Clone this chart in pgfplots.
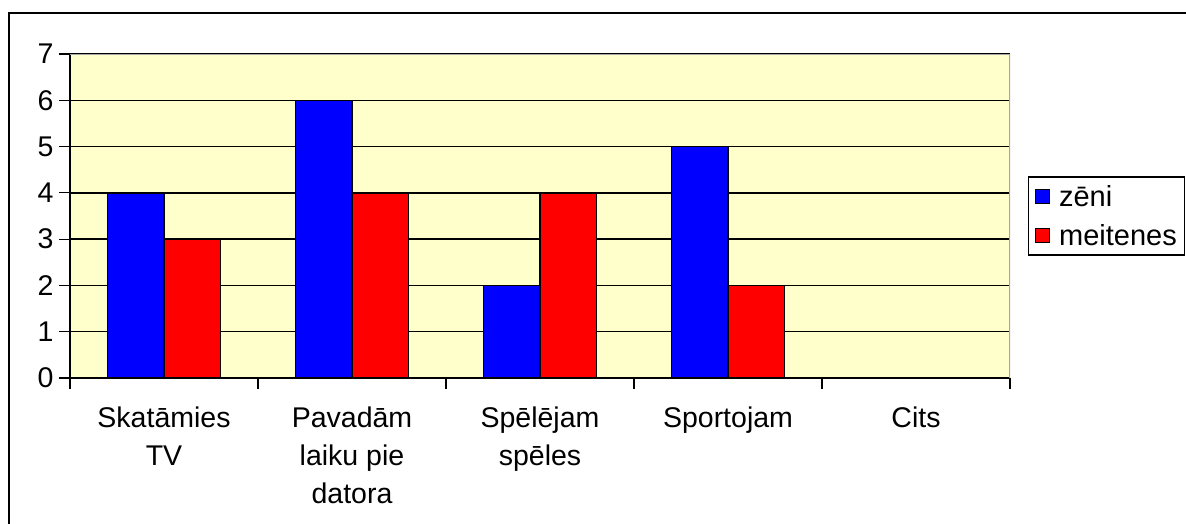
\documentclass[border=0pt]{standalone}
\usepackage{fontspec}
\setmainfont{Liberation Sans}
\usepackage{pgfplots}
\pgfplotsset{compat=1.18}
\definecolor{bgy}{HTML}{FFFFCC}
\begin{document}
\begin{tikzpicture}[x=1pt,y=1pt]
\begin{axis}[
  name=ax,
  width=940pt, height=324pt, scale only axis,
  xmin=-0.5, xmax=4.5, ymin=0, ymax=7,
  axis background/.style={fill=bgy},
  axis x line*=bottom, axis y line*=left,
  axis line style={line width=1.4pt, black, -},
  xtick={-0.5,0.5,1.5,2.5,3.5,4.5},
  x tick label as interval,
  xticklabels={{Skatāmies\\TV},{Pavadām\\laiku pie\\datora},{Spēlējam\\spēles},{Sportojam},{Cits}},
  ytick={0,1,2,3,4,5,6,7},
  tick align=outside,
  major tick length=11pt,
  tick style={line width=1.2pt, black},
  ymajorgrids, grid style={line width=1.4pt, black},
  font=\fontsize{28.5}{38}\selectfont,
  /pgf/number format/assume math mode=true,
  xticklabel style={align=center, anchor=north, yshift=-14pt},
  yticklabel style={xshift=-2pt},
  ybar, bar width=0.3,
  legend style={at={(1,0.5)}, anchor=west, xshift=18pt, draw=black, line width=1.2pt,
    font=\fontsize{29}{34}\selectfont, inner xsep=6pt, inner ysep=6pt, row sep=13pt,
    legend cell align=left},
  legend image code/.code={\draw[#1, draw=black, line width=1pt] (0pt,-7pt) rectangle (14pt,7pt);
    \path[draw=none, fill=none] (0pt,0pt) -- (22pt,0pt);},
]
\coordinate (BL) at (rel axis cs:0,0);
\addplot[fill={rgb,255:red,0;green,0;blue,255}, draw=black, line width=1.4pt, bar shift=-0.15]
  coordinates {(0,4) (1,6) (2,2) (3,5)};
\addplot[fill={rgb,255:red,255;green,0;blue,0}, draw=black, line width=1.4pt, bar shift=0.15]
  coordinates {(0,3) (1,4) (2,4) (3,2)};
\legend{zēni, meitenes}
\draw[gray!70, line width=1.4pt] (rel axis cs:0,1) -- (rel axis cs:1,1) -- (rel axis cs:1,0);
\end{axis}
\draw[line width=1.6pt] ([shift={(-61,-250)}]BL) -- ([shift={(-61,365)}]BL) -- ([shift={(1250,365)}]BL);
\pgfresetboundingbox
\path[use as bounding box] ([shift={(-70,-146)}]BL) rectangle ([shift={(1116,378)}]BL);
\end{tikzpicture}
\end{document}
